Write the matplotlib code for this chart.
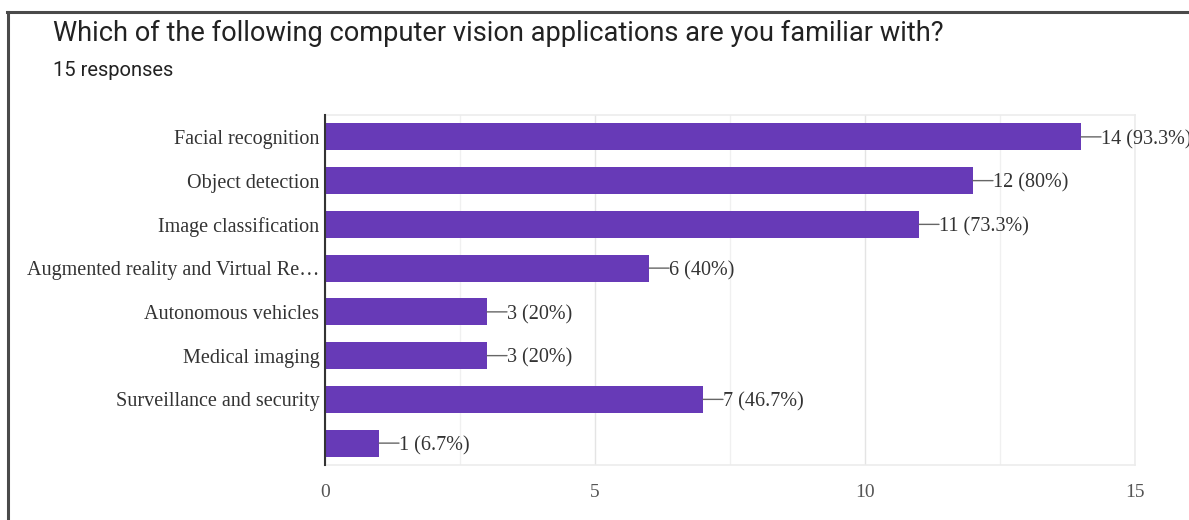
import matplotlib
matplotlib.use("Agg")
import matplotlib.pyplot as plt
from matplotlib.ticker import MultipleLocator

title = "Which of the following computer vision applications are you familiar with?"
subtitle = "15 responses"
categories = ["Facial recognition", "Object detection", "Image classification",
              "Augmented reality and Virtual Re\u2026", "Autonomous vehicles",
              "Medical imaging", "Surveillance and security", ""]
counts = [14, 12, 11, 6, 3, 3, 7, 1]
percents = ["93.3%", "80%", "73.3%", "40%", "20%", "20%", "46.7%", "6.7%"]
xticks = [0, 5, 10, 15]

W, H = 1189, 520
fig = plt.figure(figsize=(W / 100, H / 100), dpi=100)

# outer frame (top and left edges visible)
fig.add_artist(plt.Line2D([8 / W, 8 / W], [0, 1 - 12 / H], transform=fig.transFigure,
                          color="#4a4a4a", lw=2.2))
fig.add_artist(plt.Line2D([7 / W, 1], [1 - 12 / H, 1 - 12 / H], transform=fig.transFigure,
                          color="#4a4a4a", lw=2.2))

fig.text(53 / W, 1 - 33 / H, title, fontsize=19.6, family="Roboto", color="#222222",
         va="center", ha="left")
fig.text(53 / W, 1 - 70 / H, subtitle, fontsize=14.5, family="Roboto", color="#222222",
         va="center", ha="left")

left, right, top, bottom = 325, 1135, 115, 465
ax = fig.add_axes([left / W, 1 - bottom / H, (right - left) / W, (bottom - top) / H])

y = list(range(len(categories)))
ax.barh(y, counts, height=0.62, color="#673ab7", zorder=3)
ax.set_ylim(len(categories) - 0.5, -0.5)
ax.set_xlim(0, 15)

ax.set_yticks(y)
ax.set_yticklabels(categories, family="Liberation Serif", fontsize=14.5, color="#333333",
                   va="center_baseline")
ax.set_xticks(xticks)
ax.set_xticklabels([str(t) for t in xticks], family="Liberation Serif", fontsize=14,
                   color="#555555")
ax.xaxis.set_minor_locator(MultipleLocator(2.5))
ax.tick_params(axis="both", which="both", length=0, pad=4)
ax.tick_params(axis="x", which="major", pad=14)
ax.grid(axis="x", which="major", color="#e4e4e4", lw=1, zorder=0)
ax.grid(axis="x", which="minor", color="#f0f0f0", lw=1, zorder=0)

for s in ["top", "right", "bottom"]:
    ax.spines[s].set_color("#ececec")
    ax.spines[s].set_linewidth(1.2)
ax.spines["left"].set_color("#333333")
ax.spines["left"].set_linewidth(1.5)
ax.spines["left"].set_zorder(5)

for i, (c, p) in enumerate(zip(counts, percents)):
    # connector line
    ax.annotate("", xy=(c, i), xytext=(20, 0), textcoords="offset pixels",
                annotation_clip=False,
                arrowprops=dict(arrowstyle="-", color="#666666", lw=1,
                                shrinkA=0, shrinkB=0))
    ax.annotate(f"{c} ({p})", xy=(c, i), xytext=(20, 0), textcoords="offset pixels",
                va="center_baseline", ha="left", family="Liberation Serif", fontsize=14.5,
                color="#333333", annotation_clip=False)

fig.savefig("out.png", dpi=100)
